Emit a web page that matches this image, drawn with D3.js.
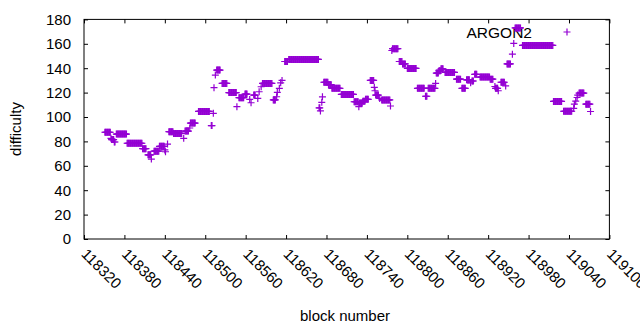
<!DOCTYPE html>
<html>
<head>
<meta charset="utf-8">
<script src="https://cdn.jsdelivr.net/npm/d3@7"></script>
<style>
  body { margin: 0; background: #fff; }
  text { font-family: "Liberation Sans", Arial, sans-serif; fill: #000; }
</style>
</head>
<body>
<div id="chart"></div>
<script>
// runs of blocks that share the same difficulty (start block, end block, value)
const runStart = [118351,118360,118361,118365,118368,118384,118407,118415,118420,118424,118432,118440,118441,118444,118446,118453,118468,118470,118477,118478,118490,118509,118512,118513,118515,118517,118525,118535,118547,118550,118559,118566,118568,118572,118578,118580,118583,118585,118601,118606,118607,118610,118612,118614,118618,118624,118669,118671,118673,118674,118676,118683,118688,118702,118721,118728,118729,118734,118738,118745,118751,118752,118753,118759,118762,118775,118777,118778,118788,118793,118800,118815,118827,118831,118842,118843,118847,118850,118856,118873,118881,118888,118894,118896,118900,118908,118923,118930,118931,118935,118939,118946,118948,118956,118958,118960,118971,119017,119032,119047,119048,119050,119052,119053,119055,119065,119072];
const runEnd   = [118359,118360,118364,118366,118383,118406,118412,118419,118420,118431,118439,118440,118441,118444,118452,118465,118468,118475,118477,118485,118506,118510,118512,118513,118515,118522,118532,118546,118547,118557,118562,118566,118568,118574,118578,118580,118583,118599,118604,118606,118607,118610,118612,118614,118622,118668,118670,118671,118673,118674,118682,118687,118700,118720,118727,118728,118733,118737,118742,118750,118751,118752,118757,118759,118774,118775,118777,118786,118792,118797,118813,118825,118829,118841,118842,118846,118849,118853,118870,118879,118886,118892,118894,118898,118903,118922,118927,118930,118934,118935,118944,118946,118953,118956,118958,118968,119016,119029,119044,119047,119048,119050,119052,119053,119062,119071,119072];
const runValue = [87.5,82.5,81.5,79.5,86,78.5,74,69,65.5,72,76,73,71.5,77.8,88,86.5,82.5,88.5,91,95,104.6,93,103,124,134.4,138.5,127.5,120,108.5,115.8,118.8,114.4,111.7,118,115.2,120.7,124.8,127.5,114,116.6,120.2,123.5,128,130,145.5,147.2,107.5,105,112,116.5,128.5,126.5,123.5,118.5,112.5,108.5,111.5,113,114.5,130,124.3,121.5,118,115.2,114,109,154.5,156,145.5,143.5,139.8,123.5,117,123.5,127.5,136,138,139.5,136.5,131,123.5,130.5,128,129.5,135,132.7,131,125,123.5,121.5,128.5,125.5,143.5,151.5,160.3,173,158.7,112.8,104.7,107,110.5,113,116,118,119.6,110.5,104.5];

const xTicks = [118320,118380,118440,118500,118560,118620,118680,118740,118800,118860,118920,118980,119040,119100];
const yTicks = [0,20,40,60,80,100,120,140,160,180];
const seriesName = "ARGON2";

const width = 640;
const height = 330;
const plotLeft = 84, plotRight = 609.4, plotTop = 19.4, plotBottom = 239;
const color = "#9400d3";
const arm = 3.5;

// one point for every block of each run
const points = [];
runStart.forEach(function (s, i) {
    for (let b = s; b <= runEnd[i]; b++) {
        points.push({ block: b, difficulty: runValue[i] });
    }
});

const svg = d3.select("#chart")
    .append("svg")
    .attr("width", width)
    .attr("height", height);

const x = d3.scaleLinear().domain([118320, 119100]).range([plotLeft, plotRight]);
const y = d3.scaleLinear().domain([0, 180]).range([plotBottom, plotTop]);

// ticks point inwards and are mirrored, gnuplot style
const xAxis = svg.append("g")
    .attr("transform", "translate(0," + plotBottom + ")")
    .call(d3.axisBottom(x).tickValues(xTicks).tickSizeInner(-4).tickSizeOuter(0).tickFormat(d3.format("d")));
xAxis.select(".domain").remove();
xAxis.selectAll("text")
    .attr("font-size", 15)
    .attr("text-anchor", "start")
    .attr("dy", null)
    .attr("y", 0)
    .attr("transform", function (d) { return "translate(-4,16) rotate(45)"; });

svg.append("g")
    .attr("transform", "translate(0," + plotTop + ")")
    .call(d3.axisTop(x).tickValues(xTicks).tickSizeInner(-4).tickSizeOuter(0).tickFormat(""))
    .select(".domain").remove();

const yAxis = svg.append("g")
    .attr("transform", "translate(" + plotLeft + ",0)")
    .call(d3.axisLeft(y).tickValues(yTicks).tickSizeInner(-4).tickSizeOuter(0));
yAxis.select(".domain").remove();
yAxis.selectAll("text")
    .attr("font-size", 15)
    .attr("x", -13);

svg.append("g")
    .attr("transform", "translate(" + plotRight + ",0)")
    .call(d3.axisRight(y).tickValues(yTicks).tickSizeInner(-4).tickSizeOuter(0).tickFormat(""))
    .select(".domain").remove();

svg.selectAll(".tick line").attr("stroke", "#000");

svg.append("rect")
    .attr("x", plotLeft)
    .attr("y", plotTop)
    .attr("width", plotRight - plotLeft)
    .attr("height", plotBottom - plotTop)
    .attr("fill", "none")
    .attr("stroke", "#000")
    .attr("stroke-width", 1);

// axis titles
svg.append("text")
    .attr("x", 345)
    .attr("y", 321)
    .attr("text-anchor", "middle")
    .attr("font-size", 15)
    .text("block number");

svg.append("text")
    .attr("transform", "translate(21,129) rotate(-90)")
    .attr("text-anchor", "middle")
    .attr("font-size", 15)
    .text("difficulty");

// key
svg.append("text")
    .attr("x", 532)
    .attr("y", 37.5)
    .attr("text-anchor", "end")
    .attr("font-size", 15.5)
    .text(seriesName);

function plus(cx, cy) {
    return "M" + (cx - arm) + "," + cy + "H" + (cx + arm) +
           "M" + cx + "," + (cy - arm) + "V" + (cy + arm);
}

svg.append("path")
    .attr("d", plus(567, 32))
    .attr("stroke", color)
    .attr("stroke-width", 1.2)
    .attr("fill", "none");

svg.append("g")
    .selectAll("path")
    .data(points)
    .enter()
    .append("path")
    .attr("d", function (d) { return plus(x(d.block), y(d.difficulty)); })
    .attr("stroke", color)
    .attr("stroke-width", 1.2)
    .attr("fill", "none");
</script>
</body>
</html>
